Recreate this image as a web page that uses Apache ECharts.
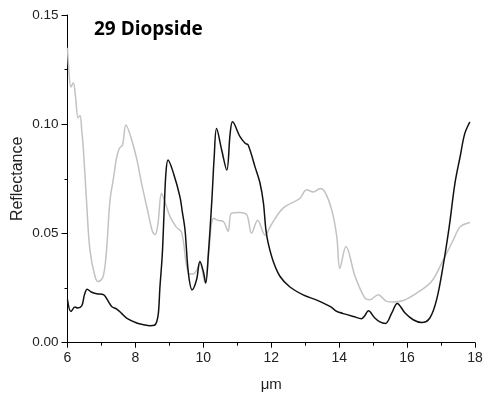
<!DOCTYPE html>
<html>
<head>
<meta charset="utf-8">
<script src="https://cdn.jsdelivr.net/npm/echarts@6/dist/echarts.min.js"></script>
<style>
  html, body { margin: 0; padding: 0; background: #fff; }
  #chart { width: 485px; height: 400px; }
</style>
</head>
<body>
<div id="chart"></div>
<script>
// Wavelength (µm) and reflectance of the two diopside spectra
const grayX = [6.00, 6.03, 6.10, 6.17, 6.24, 6.31, 6.37, 6.42, 6.47, 6.56, 6.66, 6.81, 6.91, 7.05, 7.15, 7.25, 7.35, 7.45, 7.53, 7.62, 7.72, 7.89, 8.04, 8.18, 8.38, 8.50, 8.58, 8.66, 8.77, 8.88, 9.02, 9.20, 9.36, 9.51, 9.60, 9.70, 9.80, 9.90, 10.05, 10.15, 10.30, 10.43, 10.59, 10.73, 10.83, 11.07, 11.28, 11.42, 11.60, 11.82, 12.00, 12.35, 12.84, 13.04, 13.24, 13.44, 13.58, 13.78, 13.93, 14.02, 14.20, 14.47, 14.76, 14.91, 15.15, 15.40, 15.59, 15.89, 16.28, 16.72, 17.07, 17.36, 17.56, 17.85];
const grayY = [0.1350, 0.1270, 0.1170, 0.1190, 0.1120, 0.1030, 0.1040, 0.0970, 0.0880, 0.0650, 0.0425, 0.0303, 0.0280, 0.0303, 0.0425, 0.0650, 0.0750, 0.0850, 0.0890, 0.0905, 0.0996, 0.0928, 0.0840, 0.0730, 0.0590, 0.0510, 0.0494, 0.0540, 0.0684, 0.0640, 0.0577, 0.0530, 0.0505, 0.0348, 0.0315, 0.0315, 0.0330, 0.0366, 0.0274, 0.0400, 0.0570, 0.0560, 0.0555, 0.0510, 0.0593, 0.0596, 0.0585, 0.0501, 0.0560, 0.0492, 0.0540, 0.0616, 0.0660, 0.0700, 0.0690, 0.0706, 0.0690, 0.0608, 0.0486, 0.0340, 0.0440, 0.0303, 0.0204, 0.0197, 0.0220, 0.0189, 0.0186, 0.0193, 0.0227, 0.0280, 0.0380, 0.0470, 0.0530, 0.0550];

const blackX = [6.00, 6.10, 6.22, 6.30, 6.42, 6.50, 6.58, 6.70, 6.86, 7.07, 7.17, 7.30, 7.45, 7.60, 7.74, 8.04, 8.25, 8.43, 8.56, 8.63, 8.68, 8.72, 8.79, 8.85, 8.90, 8.96, 9.12, 9.31, 9.38, 9.46, 9.56, 9.67, 9.80, 9.90, 10.00, 10.07, 10.15, 10.25, 10.32, 10.39, 10.54, 10.69, 10.79, 10.86, 11.08, 11.23, 11.32, 11.52, 11.67, 11.77, 11.84, 11.91, 12.06, 12.26, 12.55, 12.94, 13.34, 13.73, 13.93, 14.02, 14.12, 14.42, 14.66, 14.76, 14.86, 15.05, 15.20, 15.36, 15.55, 15.71, 15.94, 16.18, 16.43, 16.67, 16.87, 17.07, 17.24, 17.41, 17.56, 17.70, 17.85];
const blackY = [0.0197, 0.0143, 0.0163, 0.0159, 0.0169, 0.0220, 0.0245, 0.0232, 0.0224, 0.0219, 0.0197, 0.0166, 0.0154, 0.0133, 0.0113, 0.0090, 0.0082, 0.0078, 0.0080, 0.0097, 0.0140, 0.0250, 0.0400, 0.0620, 0.0780, 0.0836, 0.0776, 0.0669, 0.0600, 0.0517, 0.0319, 0.0242, 0.0288, 0.0372, 0.0326, 0.0273, 0.0410, 0.0650, 0.0850, 0.0980, 0.0882, 0.0790, 0.0958, 0.1011, 0.0943, 0.0913, 0.0905, 0.0806, 0.0730, 0.0639, 0.0520, 0.0456, 0.0372, 0.0303, 0.0255, 0.0219, 0.0195, 0.0166, 0.0143, 0.0138, 0.0133, 0.0120, 0.0110, 0.0125, 0.0146, 0.0113, 0.0095, 0.0088, 0.0136, 0.0180, 0.0136, 0.0105, 0.0092, 0.0113, 0.0197, 0.0360, 0.0530, 0.0730, 0.0850, 0.0958, 0.1011];

const yTicks = [0, 0.05, 0.10, 0.15];
const xTicks = [6, 8, 10, 12, 14, 16, 18];

const pairs = (xs, ys) => xs.map((x, i) => [x, ys[i]]);

const axisFont = 'Liberation Sans, Arial, sans-serif';
const chart = echarts.init(document.getElementById('chart'));
chart.setOption({
  animation: false,
  backgroundColor: '#fff',
  title: {
    text: '29 Diopside',
    left: 89,
    top: 15,
    textStyle: { fontFamily: 'Open Sans, sans-serif', fontWeight: 'bold', fontSize: 19, color: '#000' }
  },
  grid: { left: 67.5, right: 10, top: 15, bottom: 57.3, containLabel: false, outerBoundsMode: 'none' },
  xAxis: {
    type: 'value',
    min: xTicks[0],
    max: xTicks[xTicks.length - 1],
    interval: 2,
    name: 'μm',
    nameLocation: 'middle',
    nameGap: 35,
    nameMoveOverlap: false,
    nameTextStyle: { fontFamily: axisFont, fontSize: 15, color: '#222' },
    axisLine: { onZero: false, lineStyle: { color: '#000', width: 1 } },
    axisTick: { show: true, inside: false, length: 5, lineStyle: { color: '#000' } },
    minorTick: { show: true, splitNumber: 2, length: 3, lineStyle: { color: '#000' } },
    axisLabel: { fontFamily: axisFont, fontSize: 14, color: '#222', margin: 8 },
    splitLine: { show: false }
  },
  yAxis: {
    type: 'value',
    min: yTicks[0],
    max: yTicks[yTicks.length - 1],
    interval: 0.05,
    name: 'Reflectance',
    nameLocation: 'middle',
    nameGap: 42,
    nameMoveOverlap: false,
    nameTextStyle: { fontFamily: axisFont, fontSize: 16, color: '#222' },
    axisLine: { show: true, lineStyle: { color: '#000', width: 1 } },
    axisTick: { show: true, inside: false, length: 6, lineStyle: { color: '#000' } },
    minorTick: { show: true, splitNumber: 2, length: 3, lineStyle: { color: '#000' } },
    axisLabel: { fontFamily: axisFont, fontSize: 13.5, color: '#222', margin: 9, formatter: v => v.toFixed(2) },
    splitLine: { show: false }
  },
  series: [
    {
      type: 'line',
      data: pairs(grayX, grayY),
      showSymbol: false,
      smooth: 0.35,
      lineStyle: { color: '#c2c2c2', width: 1.5 }
    },
    {
      type: 'line',
      data: pairs(blackX, blackY),
      showSymbol: false,
      smooth: 0.35,
      lineStyle: { color: '#111', width: 1.5 }
    }
  ]
});
</script>
</body>
</html>
